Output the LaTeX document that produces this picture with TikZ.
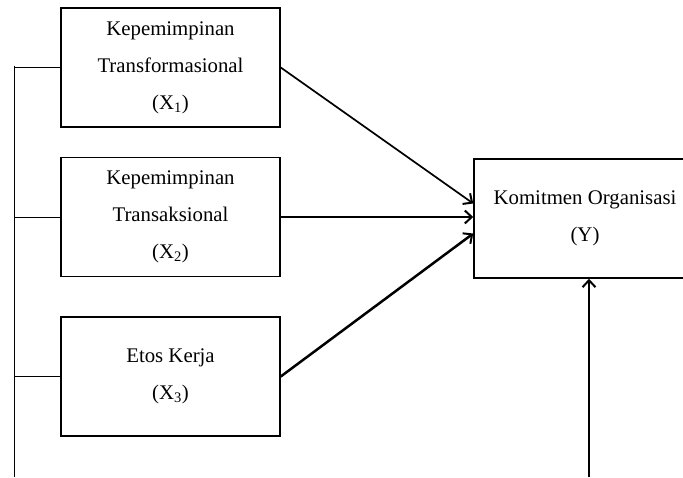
\documentclass[tikz,border=0pt]{standalone}
\usepackage{fontspec}
\setmainfont{Liberation Serif}
\usetikzlibrary{arrows.meta}
\begin{document}
\begin{tikzpicture}[x=1pt,y=-1pt,
  varbox/.style={draw,line width=1.5pt,minimum width=219pt,minimum height=119pt,inner sep=0pt,align=center,font=\fontsize{20.8}{37}\selectfont},
  ybox/.style={varbox,minimum width=222pt},
  thin/.style={line width=1pt},
  arr/.style={line width=2pt,-{Straight Barb[length=7pt,width=13pt,line width=2pt]}}]
\useasboundingbox (0,0) rectangle (683,477);
\begin{scope}
\clip (0,0) rectangle (683,477);
\node[varbox] (x1) at (170.5,67.5) {Kepemimpinan\\Transformasional\\(X\textsubscript{1})};
\node[varbox] (x2) at (170.5,217) {Kepemimpinan\\Transaksional\\(X\textsubscript{2})};
\node[varbox] (x3) at (170.5,376.5) {Etos Kerja\\(X\textsubscript{3})};
\node[ybox] (y) at (585,218.5) {Komitmen Organisasi\\(Y)};
\coordinate (bustop) at (14,66);
\coordinate (busbot) at (14,477);
\coordinate (ybot) at (589,477);
\draw[thin] (bustop) -- (busbot);
\draw[thin] (x1.west) -- (x1.west -| bustop);
\draw[thin] (x2.west) -- (x2.west -| bustop);
\draw[thin] (x3.west) -- (x3.west -| bustop);
\draw[arr,line width=1.7pt] (x1.east) -- ([yshift=15pt]y.west);
\draw[arr] (x2.east) -- ([yshift=1.5pt]y.west);
\draw[arr,line width=2.5pt] (x3.east) -- ([yshift=-15pt]y.west);
\draw[arr] (ybot) -- (ybot |- y.south);
\end{scope}
\end{tikzpicture}
\end{document}
